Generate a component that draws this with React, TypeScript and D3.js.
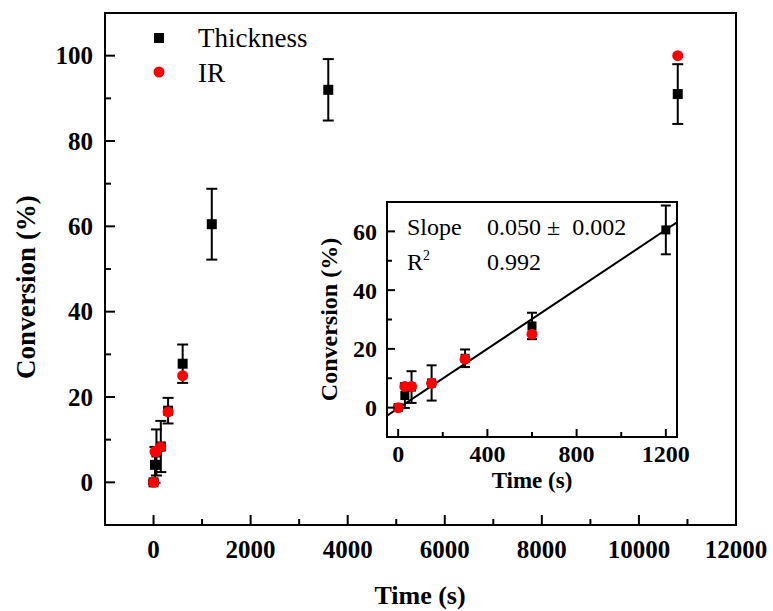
import React from "react";
import * as d3 from "d3";

// ---- data ----
const thicknessTime = [0, 30, 60, 150, 300, 600, 1200, 3600, 10800];
const thicknessValue = [0, 4.1, 7, 8.4, 16.8, 27.8, 60.5, 92, 91];
const thicknessError = [0.4, 4.2, 5.4, 6, 3, 4.5, 8.3, 7.2, 7];
const irTime = [0, 30, 60, 150, 300, 600, 10800];
const irValue = [0, 7.2, 7.2, 8.3, 16.5, 25, 100];
const mainXTicks = [0, 2000, 4000, 6000, 8000, 10000, 12000];
const mainXMinor = [1000, 3000, 5000, 7000, 9000, 11000];
const mainYTicks = [0, 20, 40, 60, 80, 100];
const mainYMinor = [10, 30, 50, 70, 90];
const insetXTicks = [0, 400, 800, 1200];
const insetXMinor = [200, 600, 1000];
const insetYTicks = [0, 20, 40, 60];
const insetYMinor = [10, 30, 50];
const fitIntercept = -0.2;
const fitSlope = 0.0506;
const fitRange = [-50, 1250];
const legendLabels = ["Thickness", "IR"];
const fitLabels = [["Slope", "0.050 \u00b1  0.002"], ["R", "0.992"]];

const W = 773;
const H = 611;
const FONT = "'Liberation Serif', 'Times New Roman', serif";

const thick = thicknessTime.map((t, i) => ({ t, v: thicknessValue[i], e: thicknessError[i] }));
const ir = irTime.map((t, i) => ({ t, v: irValue[i] }));

function Panel(props: {
  x: d3.ScaleLinear<number, number>;
  y: d3.ScaleLinear<number, number>;
  xTicks: number[]; xMinor: number[]; yTicks: number[]; yMinor: number[];
  major: number; minor: number; fontSize: number;
  xLabelY: number; yLabelGap: number;
}) {
  const { x, y, xTicks, xMinor, yTicks, yMinor, major, minor, fontSize, xLabelY, yLabelGap } = props;
  const [x0, x1] = x.range();
  const [y0, y1] = y.range();
  return (
    <g>
      <rect x={x0} y={y1} width={x1 - x0} height={y0 - y1} fill="none" stroke="#000" strokeWidth={2} />
      {xTicks.map((t) => (
        <g key={"xt" + t}>
          <line x1={x(t)} x2={x(t)} y1={y0} y2={y0 - major} stroke="#000" strokeWidth={2} />
          <text x={x(t)} y={xLabelY} textAnchor="middle" fontFamily={FONT} fontWeight="bold" fontSize={fontSize}>{t}</text>
        </g>
      ))}
      {xMinor.map((t) => (
        <line key={"xm" + t} x1={x(t)} x2={x(t)} y1={y0} y2={y0 - minor} stroke="#000" strokeWidth={2} />
      ))}
      {yTicks.map((t) => (
        <g key={"yt" + t}>
          <line x1={x0} x2={x0 + major} y1={y(t)} y2={y(t)} stroke="#000" strokeWidth={2} />
          <text x={x0 - yLabelGap} y={y(t)} dy="0.35em" textAnchor="end" fontFamily={FONT} fontWeight="bold" fontSize={fontSize}>{t}</text>
        </g>
      ))}
      {yMinor.map((t) => (
        <line key={"ym" + t} x1={x0} x2={x0 + minor} y1={y(t)} y2={y(t)} stroke="#000" strokeWidth={2} />
      ))}
    </g>
  );
}

function Points(props: {
  x: d3.ScaleLinear<number, number>;
  y: d3.ScaleLinear<number, number>;
  thickData: { t: number; v: number; e: number }[];
  irData: { t: number; v: number }[];
  sq: number; r: number; cap: number;
}) {
  const { x, y, thickData, irData, sq, r, cap } = props;
  return (
    <g>
      {thickData.map((d, i) => (
        <g key={"th" + i}>
          <line x1={x(d.t)} x2={x(d.t)} y1={y(d.v - d.e)} y2={y(d.v + d.e)} stroke="#000" strokeWidth={2} />
          <line x1={x(d.t) - cap / 2} x2={x(d.t) + cap / 2} y1={y(d.v - d.e)} y2={y(d.v - d.e)} stroke="#000" strokeWidth={2} />
          <line x1={x(d.t) - cap / 2} x2={x(d.t) + cap / 2} y1={y(d.v + d.e)} y2={y(d.v + d.e)} stroke="#000" strokeWidth={2} />
          <rect x={x(d.t) - sq / 2} y={y(d.v) - sq / 2} width={sq} height={sq} fill="#000" />
        </g>
      ))}
      {irData.map((d, i) => (
        <circle key={"ir" + i} cx={x(d.t)} cy={y(d.v)} r={r} fill="#ff0000" />
      ))}
    </g>
  );
}

export default function App() {
  const x = d3.scaleLinear().domain([-1000, 12000]).range([105, 736]);
  const y = d3.scaleLinear().domain([-10, 110]).range([525, 13]);
  const ix = d3.scaleLinear().domain([-50, 1250]).range([387, 677]);
  const iy = d3.scaleLinear().domain([-10, 70]).range([437, 202]);

  const fitLine = d3.line<number>().x((t) => ix(t)).y((t) => iy(fitIntercept + fitSlope * t));

  return (
    <svg width={W} height={H} style={{ position: "absolute", left: 0, top: 0, background: "#fff" }}>
      <rect width={W} height={H} fill="#fff" />
      <Panel x={x} y={y} xTicks={mainXTicks} xMinor={mainXMinor} yTicks={mainYTicks} yMinor={mainYMinor}
        major={10} minor={6} fontSize={25} xLabelY={558} yLabelGap={12} />
      <text x={420} y={604} textAnchor="middle" fontFamily={FONT} fontWeight="bold" fontSize={26}>Time (s)</text>
      <text transform="translate(35,287) rotate(-90)" textAnchor="middle" fontFamily={FONT} fontWeight="bold" fontSize={27}>Conversion (%)</text>

      {/* legend */}
      <rect x={154} y={33} width={10} height={10} fill="#000" />
      <text x={198} y={47} fontFamily={FONT} fontSize={27}>{legendLabels[0]}</text>
      <circle cx={159} cy={72} r={5.5} fill="#ff0000" />
      <text x={198} y={82} fontFamily={FONT} fontSize={27}>{legendLabels[1]}</text>

      <Points x={x} y={y} thickData={thick} irData={ir} sq={10} r={5.5} cap={11} />

      {/* inset */}
      <rect x={387} y={202} width={290} height={235} fill="#fff" />
      <defs>
        <clipPath id="insetClip"><rect x={387} y={202} width={290} height={235} /></clipPath>
      </defs>
      <g clipPath="url(#insetClip)">
        <path d={fitLine(fitRange) || ""} fill="none" stroke="#000" strokeWidth={2} />
        <Points x={ix} y={iy} thickData={thick.filter((d) => d.t <= 1250)} irData={ir.filter((d) => d.t <= 1250)} sq={9} r={5.5} cap={10} />
      </g>
      <Panel x={ix} y={iy} xTicks={insetXTicks} xMinor={insetXMinor} yTicks={insetYTicks} yMinor={insetYMinor}
        major={8} minor={5} fontSize={24} xLabelY={462} yLabelGap={10} />
      <text x={ix(600)} y={488} textAnchor="middle" fontFamily={FONT} fontWeight="bold" fontSize={23}>Time (s)</text>
      <text transform={`translate(337,${(202 + 437) / 2}) rotate(-90)`} textAnchor="middle" fontFamily={FONT} fontWeight="bold" fontSize={24}>Conversion (%)</text>

      <text x={407} y={235} fontFamily={FONT} fontSize={24}>{fitLabels[0][0]}</text>
      <text x={487} y={235} fontFamily={FONT} fontSize={24} style={{ whiteSpace: "pre" }}>{fitLabels[0][1]}</text>
      <text x={407} y={270} fontFamily={FONT} fontSize={24}>{fitLabels[1][0]}<tspan dy={-10} fontSize={14}>2</tspan></text>
      <text x={487} y={270} fontFamily={FONT} fontSize={24}>{fitLabels[1][1]}</text>
    </svg>
  );
}
